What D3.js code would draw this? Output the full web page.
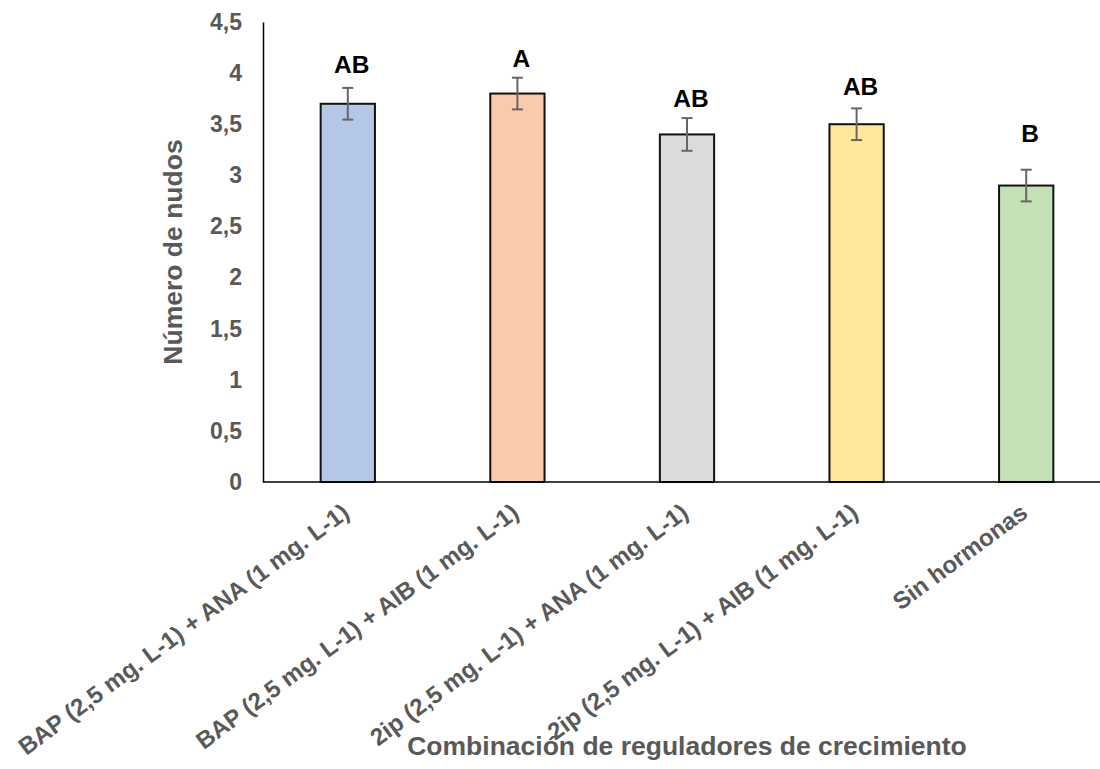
<!DOCTYPE html>
<html>
<head>
<meta charset="utf-8">
<script src="https://cdn.jsdelivr.net/npm/d3@7"></script>
<style>
  html, body { margin: 0; padding: 0; background: #fff; }
  svg { display: block; font-family: "Liberation Sans", Arial, sans-serif; }
</style>
</head>
<body>
<svg id="chart" width="1100" height="769"></svg>
<script>
// Treatments (growth regulator combinations)
const categories = [
  "BAP (2,5 mg. L-1) + ANA (1 mg. L-1)",
  "BAP (2,5 mg. L-1) + AIB (1 mg. L-1)",
  "2ip (2,5 mg. L-1) + ANA (1 mg. L-1)",
  "2ip (2,5 mg. L-1) + AIB (1 mg. L-1)",
  "Sin hormonas"
];
// Mean number of nodes per treatment
const values = [3.7, 3.8, 3.4, 3.5, 2.9];
// Standard error of each mean
const errors = [0.155, 0.155, 0.16, 0.155, 0.155];
// Significance groups and the height (in axis units) where each is written
const letters = ["AB", "A", "AB", "AB", "B"];
const letterAt = [4.0, 4.06, 3.67, 3.79, 3.33];
// Fill colours of the bars
const colors = ["#B4C7E7", "#F8CBAD", "#DBDBDB", "#FFE699", "#C5E0B4"];
// Y axis ticks
const yTicks = [0, 0.5, 1, 1.5, 2, 2.5, 3, 3.5, 4, 4.5];
const yLabel = "Número de nudos";
const xLabel = "Combinación de reguladores de crecimiento";

const svg = d3.select("#chart");
const plotLeft = 263, plotRight = 1111, plotTop = 22, plotBottom = 482;

const x = d3.scaleBand().domain(categories).range([plotLeft, plotRight]).paddingInner(0.68).paddingOuter(0.34);
const y = d3.scaleLinear().domain([0, 4.5]).range([plotBottom, plotTop]);
const fmt = d => String(d).replace(".", ",");

// Y axis: line only, labels at the left
const yAxis = svg.append("g")
  .attr("transform", `translate(${plotLeft},0)`)
  .call(d3.axisLeft(y).tickValues(yTicks).tickSize(0).tickPadding(21).tickFormat(fmt));
yAxis.select(".domain").attr("stroke", "#000").attr("stroke-width", 1.5);
yAxis.selectAll("text")
  .attr("fill", "#595959").attr("font-size", 23).attr("font-weight", "bold")
  .attr("font-family", "Liberation Sans, Arial, sans-serif");

// Bars
svg.append("g").selectAll("rect").data(categories).join("rect")
  .attr("x", d => x(d))
  .attr("y", (d, i) => y(values[i]))
  .attr("width", x.bandwidth())
  .attr("height", (d, i) => y(0) - y(values[i]))
  .attr("fill", (d, i) => colors[i])
  .attr("stroke", "#111").attr("stroke-width", 2);

// Error bars
const eb = svg.append("g").attr("stroke", "#666").attr("stroke-width", 2);
categories.forEach((c, i) => {
  const cx = x(c) + x.bandwidth() / 2;
  const hi = y(values[i] + errors[i]), lo = y(values[i] - errors[i]);
  eb.append("line").attr("x1", cx).attr("x2", cx).attr("y1", hi).attr("y2", lo);
  eb.append("line").attr("x1", cx - 5.5).attr("x2", cx + 5.5).attr("y1", hi).attr("y2", hi);
  eb.append("line").attr("x1", cx - 5.5).attr("x2", cx + 5.5).attr("y1", lo).attr("y2", lo);
});

// X axis line
svg.append("line")
  .attr("x1", plotLeft).attr("x2", 1100).attr("y1", plotBottom).attr("y2", plotBottom)
  .attr("stroke", "#000").attr("stroke-width", 1.5);

// Group letters
svg.append("g").selectAll("text").data(categories).join("text")
  .attr("x", d => x(d) + x.bandwidth() / 2 + 4)
  .attr("y", (d, i) => y(letterAt[i]))
  .attr("text-anchor", "middle")
  .attr("font-size", 24.5).attr("font-weight", "bold").attr("fill", "#000")
  .text((d, i) => letters[i]);

// Rotated category labels
svg.append("g").selectAll("text").data(categories).join("text")
  .attr("transform", d => `translate(${x(d) + x.bandwidth() / 2 - 2},${plotBottom + 27}) rotate(-36.5)`)
  .attr("text-anchor", "end")
  .attr("dy", "0.35em")
  .attr("font-size", 24).attr("font-weight", "bold").attr("fill", "#595959")
  .text(d => d);

// Axis titles
svg.append("text")
  .attr("transform", `translate(182,${(plotTop + plotBottom) / 2}) rotate(-90)`)
  .attr("text-anchor", "middle")
  .attr("font-size", 26.5).attr("font-weight", "bold").attr("fill", "#595959")
  .text(yLabel);

svg.append("text")
  .attr("x", (plotLeft + plotRight) / 2).attr("y", 755)
  .attr("text-anchor", "middle")
  .attr("font-size", 26.5).attr("font-weight", "bold").attr("fill", "#595959")
  .text(xLabel);
</script>
</body>
</html>
